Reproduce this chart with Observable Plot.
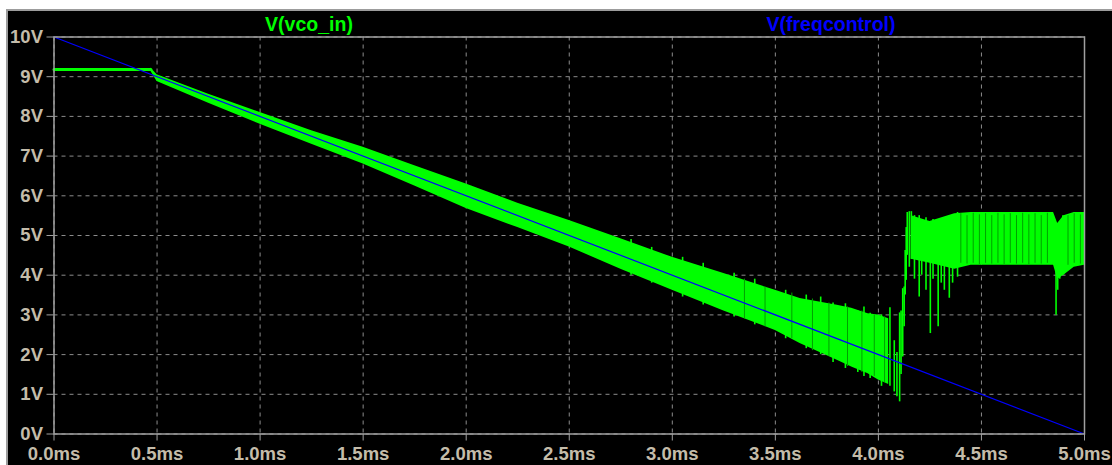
<!DOCTYPE html>
<html>
<head>
<meta charset="utf-8">
<script src="https://cdn.jsdelivr.net/npm/d3@7"></script>
<script src="https://cdn.jsdelivr.net/npm/@observablehq/plot@0.6"></script>
<style>
  html, body { margin: 0; padding: 0; background: #ffffff; }
  #wrap { position: absolute; left: 6px; top: 9px; border-top: 2px solid #9c9c9c; border-left: 2px solid #9c9c9c; background: #000; width: 1104px; height: 454px; }
  .title { position: absolute; top: 3.5px; font-family: 'Liberation Sans', Arial, sans-serif; font-weight: bold; font-size: 19.5px; line-height: 19.5px; white-space: nowrap; transform: translateX(-50%); }
</style>
</head>
<body>
<div id="wrap"></div>
<script>
// ---- tick values ----
const xTicks = [0, 0.5, 1.0, 1.5, 2.0, 2.5, 3.0, 3.5, 4.0, 4.5, 5.0];   // ms
const yTicks = [0, 1, 2, 3, 4, 5, 6, 7, 8, 9, 10];                       // V

// ---- V(freqcontrol): linear ramp ----
const freqT = [0, 5.0];
const freqV = [10, 0];

// ---- V(vco_in): initial flat segment ----
const vcoFlatT = [0, 0.47];
const vcoFlatV = [9.18, 9.18];

// ---- V(vco_in): oscillation envelope along the ramp ----
const rampT  = [0.47, 0.50, 0.75, 1.00, 1.25, 1.50, 1.75, 2.00, 2.25, 2.50, 2.75, 3.00, 3.25, 3.50, 3.62, 3.80, 3.87, 3.95, 4.00, 4.05];
const rampHi = [9.22, 9.05, 8.56, 8.10, 7.64, 7.22, 6.76, 6.30, 5.81, 5.38, 4.92, 4.45, 4.04, 3.62, 3.41, 3.24, 3.17, 3.03, 3.00, 2.90];
const rampLo = [9.14, 8.88, 8.33, 7.80, 7.30, 6.80, 6.25, 5.68, 5.20, 4.71, 4.15, 3.62, 3.10, 2.61, 2.28, 1.86, 1.69, 1.52, 1.36, 1.25];

// ---- V(vco_in): oscillation envelope on the upper plateau ----
const plateauT  = [4.16, 4.25, 4.37, 4.45, 4.60, 4.85, 4.87, 4.90, 4.95, 5.00];
const plateauHi = [5.50, 5.35, 5.55, 5.58, 5.58, 5.58, 5.30, 5.50, 5.58, 5.58];
const plateauLo = [4.40, 4.30, 4.15, 4.25, 4.25, 4.25, 3.90, 4.00, 4.20, 4.25];

// ---- V(vco_in): individual swings that stick out of the envelope (time, min, max) ----
const spikeT  = [2.80, 2.90, 3.05, 3.15, 3.30, 3.40, 3.55, 3.65, 3.72, 3.78, 3.84, 3.90, 3.93, 3.96, 4.015, 4.056, 4.077, 4.090, 4.103, 4.110, 4.118, 4.125, 4.130, 4.135, 4.140, 4.150, 4.160, 4.175, 4.198, 4.210, 4.231, 4.252, 4.265, 4.290, 4.305, 4.320, 4.344, 4.360, 4.384, 4.862, 4.870, 4.880, 4.895];
const spikeLo = [4.00, 3.80, 3.45, 3.25, 2.95, 2.75, 2.40, 2.15, 2.00, 1.80, 1.65, 1.55, 1.45, 1.40, 1.20, 1.20, 1.06, 0.94, 0.81, 1.50, 1.94, 2.70, 3.50, 3.87, 4.50, 4.20, 4.40, 3.90, 3.45, 4.00, 3.62, 2.53, 3.90, 2.70, 3.80, 3.62, 3.42, 3.80, 3.95, 2.99, 3.62, 3.90, 4.00];
const spikeHi = [4.90, 4.70, 4.45, 4.30, 4.05, 3.90, 3.62, 3.50, 3.45, 3.30, 3.28, 3.10, 3.20, 3.04, 3.00, 3.18, 2.35, 2.05, 3.05, 3.10, 3.66, 3.70, 4.62, 5.20, 5.58, 5.60, 5.60, 5.50, 5.50, 5.30, 5.45, 5.30, 5.40, 5.20, 5.40, 5.30, 5.45, 5.50, 5.58, 4.40, 5.00, 5.30, 5.50];

// ---- V(vco_in): darker overlapping strokes inside the band (time, min, max) ----
const streakT  = [3.35, 3.45, 3.58, 3.68, 3.76, 3.85, 3.92, 3.98, 4.03, 4.40, 4.43, 4.46, 4.49, 4.52, 4.55, 4.58, 4.61, 4.64, 4.67, 4.70, 4.73, 4.76, 4.79, 4.82, 4.92, 4.95, 4.98];
const streakLo = [2.90, 2.70, 2.40, 2.10, 1.95, 1.70, 1.55, 1.45, 1.30, 4.30, 4.28, 4.30, 4.27, 4.30, 4.28, 4.30, 4.27, 4.30, 4.28, 4.30, 4.27, 4.30, 4.28, 4.30, 4.25, 4.30, 4.28];
const streakHi = [3.90, 3.70, 3.55, 3.40, 3.30, 3.20, 3.10, 3.00, 2.95, 5.55, 5.50, 5.56, 5.52, 5.55, 5.50, 5.56, 5.52, 5.55, 5.50, 5.56, 5.52, 5.55, 5.50, 5.56, 5.50, 5.55, 5.52];

const GREEN = "#00ff00", DARKGREEN = "#00a000", BLUE = "#0000ff";
const rows2 = (t, v) => t.map((d, i) => ({t: d, v: v[i]}));
const rows3 = (t, lo, hi) => t.map((d, i) => ({t: d, lo: lo[i], hi: hi[i]}));

const chart = Plot.plot({
  width: 1104,
  height: 454,
  marginLeft: 45.5,
  marginRight: 28,
  marginTop: 25.5,
  marginBottom: 31.5,
  x: {domain: [0, 5]},
  y: {domain: [0, 10]},
  style: {background: "#000", fontFamily: "'Liberation Sans', Arial, sans-serif", fontSize: "18.5px", fontWeight: "bold", overflow: "visible"},
  marks: [
    Plot.gridX({ticks: xTicks, stroke: "#8c8c8c", strokeOpacity: 1, strokeDasharray: "4,4"}),
    Plot.gridY({ticks: yTicks, stroke: "#8c8c8c", strokeOpacity: 1, strokeDasharray: "4,4"}),
    Plot.areaY(rows3(rampT, rampLo, rampHi), {x: "t", y1: "lo", y2: "hi", fill: GREEN}),
    Plot.areaY(rows3(plateauT, plateauLo, plateauHi), {x: "t", y1: "lo", y2: "hi", fill: GREEN}),
    Plot.ruleX(rows3(streakT, streakLo, streakHi), {x: "t", y1: "lo", y2: "hi", stroke: DARKGREEN, strokeWidth: 1}),
    Plot.ruleX(rows3(spikeT, spikeLo, spikeHi), {x: "t", y1: "lo", y2: "hi", stroke: GREEN, strokeWidth: 1.6}),
    Plot.line(rows2(vcoFlatT, vcoFlatV), {x: "t", y: "v", stroke: GREEN, strokeWidth: 3}),
    Plot.line(rows2(freqT, freqV), {x: "t", y: "v", stroke: BLUE, strokeWidth: 1.2}),
    Plot.frame({stroke: "#a0a0a0", strokeWidth: 1.5}),
    Plot.axisX({ticks: xTicks, tickFormat: d => d.toFixed(1) + "ms", tickSize: 7, tickPadding: 6, stroke: "#a0a0a0", fill: "#c4bcaa", label: null}),
    Plot.axisY({ticks: yTicks, tickFormat: d => d + "V", tickSize: 7, tickPadding: 4, stroke: "#a0a0a0", fill: "#c4bcaa", label: null})
  ]
});
const wrap = document.getElementById("wrap");
wrap.appendChild(chart);

const t1 = document.createElement("div");
t1.className = "title"; t1.textContent = "V(vco_in)"; t1.style.color = GREEN; t1.style.left = (309 - 8) + "px";
const t2 = document.createElement("div");
t2.className = "title"; t2.textContent = "V(freqcontrol)"; t2.style.color = BLUE; t2.style.left = (831 - 8) + "px";
wrap.appendChild(t1); wrap.appendChild(t2);
</script>
</body>
</html>
